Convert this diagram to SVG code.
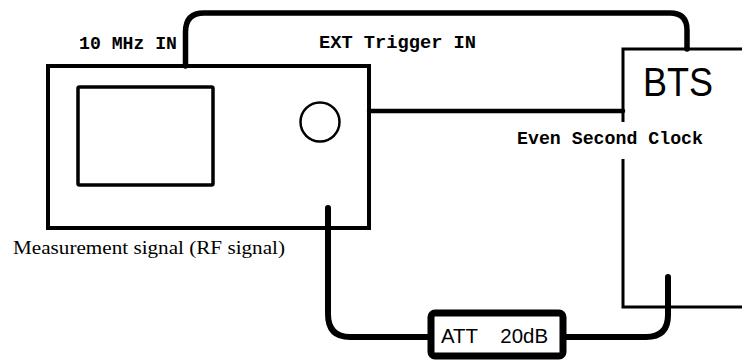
<svg xmlns="http://www.w3.org/2000/svg" width="742" height="363" viewBox="0 0 742 363">
<style>
.mono{font-family:"Liberation Mono","DejaVu Sans Mono",monospace;font-weight:bold;font-size:18px;fill:#000}
.sans{font-family:"Liberation Sans",Arial,sans-serif;fill:#000}
.serif{font-family:"Liberation Serif","Times New Roman",serif;font-size:18px;fill:#000}
.cable{fill:none;stroke:#000;stroke-linecap:round;stroke-linejoin:round}
</style>
<rect width="742" height="363" fill="#fff"/>
<g id="connectors">
<path class="cable" stroke-width="5.5" d="M185.5,66 V32 Q185.5,13 204,13 H670 Q687,13 687,30 V49"/>
<path class="cable" stroke-width="4.5" stroke-linecap="butt" d="M369,111 H623"/>
<path class="cable" stroke-width="6" d="M328,208 V314 Q328,337 350,337 H431"/>
<path class="cable" stroke-width="6" d="M563,337 H646 Q668,337 668,315 V277"/>
</g>
<g id="analyzer">
<rect x="48" y="66" width="321" height="162" fill="none" stroke="#000" stroke-width="4"/>
<rect x="78" y="87" width="135" height="98" rx="1.5" fill="none" stroke="#000" stroke-width="3.5"/>
<circle cx="320" cy="122" r="19.5" fill="none" stroke="#000" stroke-width="2.5"/>
</g>
<g id="bts">
<path d="M742,49 H623 V122 M623,159 V307 H742" fill="none" stroke="#000" stroke-width="3"/>
<text class="sans" x="643" y="96" font-size="40" textLength="70" lengthAdjust="spacingAndGlyphs">BTS</text>
</g>
<g id="att">
<rect x="431" y="313" width="132" height="43" rx="4" fill="#fff" stroke="#000" stroke-width="7"/>
<text class="sans" x="441" y="343" font-size="21" textLength="107" lengthAdjust="spacingAndGlyphs" xml:space="preserve">ATT    20dB</text>
</g>
<g id="labels">
<text class="mono" x="79" y="49" textLength="98" lengthAdjust="spacingAndGlyphs">10 MHz IN</text>
<text class="mono" x="319" y="48" textLength="157" lengthAdjust="spacingAndGlyphs">EXT Trigger IN</text>
<text class="mono" x="517" y="144" textLength="186" lengthAdjust="spacingAndGlyphs">Even Second Clock</text>
<text class="serif" x="13" y="254" textLength="272" lengthAdjust="spacingAndGlyphs">Measurement signal (RF signal)</text>
</g>
</svg>
